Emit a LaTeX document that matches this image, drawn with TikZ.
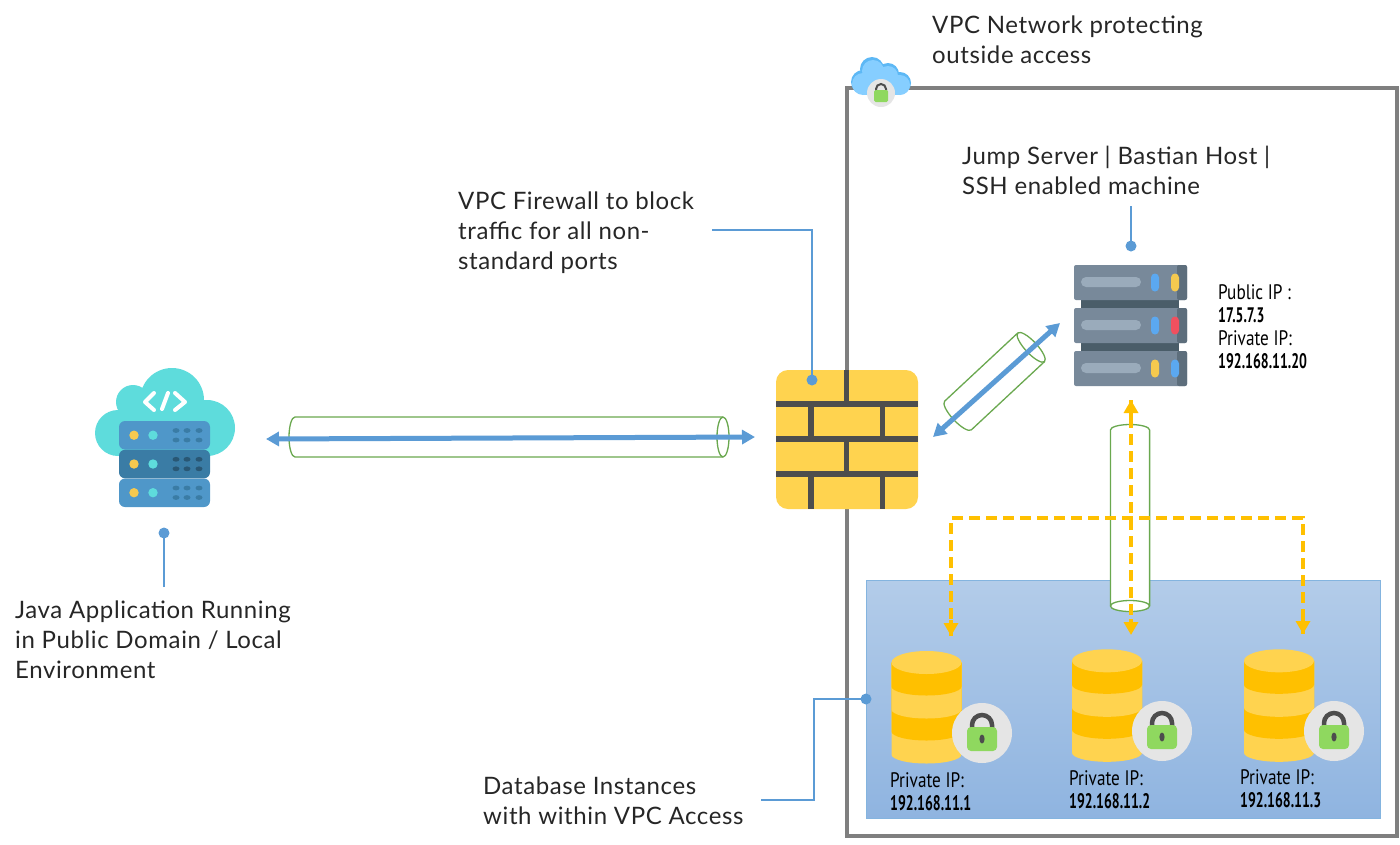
\documentclass[tikz,border=0pt]{standalone}
\usepackage{fontspec}
\usetikzlibrary{arrows.meta,calc}
\setmainfont[LetterSpace=2.5]{Lato}
\newfontfamily\narrowfont[FakeStretch=0.82]{PT Sans}
\newfontfamily\ipnum[FakeStretch=0.66]{PT Sans}
\definecolor{wire}{HTML}{5B9BD5}
\definecolor{tube}{HTML}{6AA84F}
\definecolor{amber}{HTML}{FFC000}
\definecolor{honey}{HTML}{FFD34F}
\definecolor{mortar}{HTML}{4D4D4D}
\definecolor{frameg}{HTML}{7F7F7F}
\definecolor{lockg}{HTML}{8FD85F}
\definecolor{teal}{HTML}{5EDCDC}
\definecolor{rackb}{HTML}{4F97C9}
\definecolor{rackd}{HTML}{3A7CA5}
\definecolor{steel}{HTML}{78899A}
\definecolor{steeld}{HTML}{4A5D69}
\definecolor{steelm}{HTML}{5D6E7C}
\definecolor{pill}{HTML}{9AABBB}
\definecolor{ledb}{HTML}{5BA8F0}
\definecolor{ledy}{HTML}{F5C94F}
\definecolor{ledr}{HTML}{F0505F}
\definecolor{skyrim}{HTML}{5DB8F5}
\definecolor{skyfill}{HTML}{86CEFF}
\definecolor{paneltop}{HTML}{B3CCE9}
\definecolor{panelbot}{HTML}{8FB4E0}
\newcommand{\ipaddr}[1]{{\ipnum\bfseries #1}}
\tikzset{
  x=1pt,y=-1pt,
  label text/.style={anchor=north west,inner sep=0pt,align=left,font=\fontsize{24}{30}\selectfont,text=black!85},
  ip text/.style={anchor=north west,inner sep=0pt,align=left,font=\fontsize{21}{23}\selectfont\narrowfont,text=black},
  callout/.style={draw=wire,line width=2.5pt},
  dot/.style={circle,fill=wire,inner sep=0pt,minimum size=11pt},
  link/.style={draw=wire,line width=5pt,{Triangle[length=13pt,width=14pt]}-{Triangle[length=13pt,width=14pt]}},
  sync/.style={draw=amber,line width=4.5pt,dash pattern=on 11pt off 6pt},
  synctip/.style={draw=amber,line width=4.5pt,-{Triangle[length=13pt,width=14pt]}},
  tubeline/.style={draw=tube,line width=1.3pt,fill=white},
  % a green tunnel lying along x, open arc at one end and a full ellipse at the other
  pics/tunnel/.style n args={3}{code={
    \path[tubeline] (0,-#2) -- (#1,-#2) arc[start angle=-90,end angle=90,x radius=#3,y radius=#2]
      -- (0,#2) arc[start angle=90,end angle=270,x radius=#3,y radius=#2] -- cycle;
    \draw[tube,line width=1.3pt] (#1,-#2) arc[start angle=-90,end angle=-270,x radius=#3,y radius=#2];
  }},
  pics/padlock/.style={code={
    \fill[black!10] (0,0) circle[radius=30];
    \draw[mortar,line width=4.5pt] (-10,3) -- (-10,-8) arc[start angle=180,end angle=360,radius=10] -- (10,3);
    \fill[lockg,rounded corners=4pt] (-15,-6) rectangle (15,18);
    \fill[mortar] (0,6) ellipse[x radius=2.6,y radius=4.5];
  }},
  pics/dbstack/.style={code={
    \foreach \e/\c in {92/honey,69/amber,47/honey,24/amber}{
      \fill[\c] (-35,0) -- (-35,\e) arc[start angle=180,end angle=0,x radius=35,y radius=9] -- (35,0) -- cycle;
    }
    \fill[honey] (0,0) ellipse[x radius=35,y radius=11.5];
  }},
  pics/rackunit/.style n args={2}{code={
    \fill[steel,rounded corners=2pt] (0,0) rectangle (113,35);
    \fill[steelm,rounded corners=2pt] (103,0) rectangle (113,35);
    \fill[pill,rounded corners=5pt] (7,12) rectangle (67,22);
    \fill[#1,rounded corners=4pt] (77,8.5) rectangle (85,26.5);
    \fill[#2,rounded corners=4pt] (97,8.5) rectangle (105,26.5);
  }},
  pics/bladeunit/.style n args={2}{code={
    \fill[#1,rounded corners=6pt] (0,0) rectangle (91,28.5);
    \fill[ledy] (15,14.2) circle[radius=4.7];
    \fill[teal] (34,14.2) circle[radius=4.7];
    \foreach \gx in {57,68,80}\foreach \gy in {9.5,19}{
      \fill[#2] (\gx,\gy) ellipse[x radius=3.5,y radius=2.4];
    }
  }}
}
\begin{document}
\begin{tikzpicture}
\useasboundingbox (0,0) rectangle (1400,844);

% VPC boundary and database subnet
\draw[frameg,line width=4.5pt] (847,88) rectangle (1397,836);
\draw[draw=wire!75,top color=paneltop,bottom color=panelbot,line width=1pt] (866,580) rectangle (1380,818);

% Cloud badge on the boundary
\fill[skyrim] (863,82) circle[radius=12] (872,69) circle[radius=12] (888,74) circle[radius=11] (900,83) circle[radius=11];
\fill[skyfill] (863,84) circle[radius=11] (873,71) circle[radius=11] (888,76) circle[radius=10] (900,85) circle[radius=10];
\fill[skyfill] (862,75) rectangle (901,95);
\fill[black!10] (881,93) circle[radius=14];
\draw[mortar,line width=2pt] (876,94) -- (876,89) arc[start angle=180,end angle=360,radius=5] -- (886,94);
\fill[lockg,rounded corners=1.5pt] (874,90) rectangle (888,102);

% Application host in the public domain
\fill[teal] (118,433) circle[radius=23] (133,402) circle[radius=17] (172,400) circle[radius=32] (207,428) circle[radius=28];
\fill[teal] (118,412) rectangle (207,456);
\draw[white,line width=4pt,line cap=round,line join=round] (154,393) -- (145,402) -- (154,410);
\draw[white,line width=4pt,line cap=round,line join=round] (175,393) -- (185,402) -- (175,410);
\draw[white,line width=4pt,line cap=round] (168,393) -- (162,409);
\pic at (119,421) {bladeunit={rackb}{rackd}};
\pic at (119,478.5) {bladeunit={rackb}{rackd}};
\pic at (119,449.8) {bladeunit={rackd}{black!30!rackd}};
\coordinate (appbottom) at (164,533);
\coordinate (appleft) at (266,439);

% Firewall wall
\fill[honey,rounded corners=12pt] (776,370) rectangle (918,509);
\draw[mortar,line width=5.5pt]
  (776,404) -- (918,404) (776,439) -- (918,439) (776,474) -- (918,474)
  (846.5,370) -- (846.5,404) (811,404) -- (811,439) (882.5,404) -- (882.5,439)
  (846.5,439) -- (846.5,474) (811,474) -- (811,509) (882.5,474) -- (882.5,509);
\coordinate (fwtop) at (812,380);
\coordinate (fwleft) at (755,437);
\coordinate (fwright) at (933,437);

% Jump server
\fill[steeld] (1081,300) rectangle (1179,351);
\pic at (1074,265) {rackunit={ledb}{ledy}};
\pic at (1074,308) {rackunit={ledb}{ledr}};
\pic at (1074,351) {rackunit={ledy}{ledb}};
\coordinate (jumptop) at (1131,246);
\coordinate (jumpleft) at (1060,323);
\coordinate (jumpbottom) at (1131,400);

% Tunnels
\pic at (295,437) {tunnel={428}{20}{6}};
\pic[rotate=43] at (958,415.5) {tunnel={100}{19.6}{6}};
\pic[rotate=-90] at (1130,430) {tunnel={176}{19.6}{5.5}};

% Databases
\pic at (926.5,662.5) {dbstack};
\pic at (1107,660.8) {dbstack};
\pic at (1279,660.8) {dbstack};
\pic at (982,733) {padlock};
\pic at (1162,731) {padlock};
\pic at (1334,731) {padlock};
\coordinate (subnet) at (866,699);
\coordinate (busw) at (951,518);
\coordinate (buse) at (1303,518);
\coordinate (dbtipa) at (951,636);
\coordinate (dbtipb) at (1131,635);
\coordinate (dbtipc) at (1303,634);

% Encrypted links
\draw[link] (appleft) -- (fwleft);
\draw[link] (fwright) -- (jumpleft);

% Private traffic between the databases and the jump server
\draw[sync] (dbtipa) -- (busw) -- (buse) -- (dbtipc);
\draw[sync] (jumpbottom) -- (dbtipb);
\draw[synctip] ($(dbtipa)+(0,-16)$) -- (dbtipa);
\draw[synctip] ($(dbtipb)+(0,-16)$) -- (dbtipb);
\draw[synctip] ($(dbtipc)+(0,-16)$) -- (dbtipc);
\draw[synctip] ($(jumpbottom)+(0,20)$) -- (jumpbottom);

% Callouts
\node[label text] (vpctext) at (932,16) {VPC Network protecting\\outside access};
\node[label text] (jumptext) at (962,146) {Jump Server | Bastian Host |\\SSH enabled machine};
\node[label text] (fwtext) at (458,192) {VPC Firewall to block\\traffic for all non-\\standard ports};
\node[label text] (apptext) at (15,601) {Java Application Running\\in Public Domain / Local\\Environment};
\node[label text] (dbtext) at (483,777) {Database Instances\\with within VPC Access};

\coordinate (fwcall) at (712,230);
\coordinate (jumpcall) at (1131,206);
\coordinate (appcall) at (164,587);
\coordinate (dbcall) at (761,800);
\draw[callout] (fwcall) -| (fwtop);
\draw[callout] (jumpcall) -- (jumptop);
\draw[callout] (appcall) -- (appbottom);
\draw[callout] (dbcall) -- (814,800) -- (814,699) -- (subnet);
\node[dot] (fwdot) at (fwtop) {};
\node[dot] (jumpdot) at (jumptop) {};
\node[dot] (appdot) at (appbottom) {};
\node[dot] (subnetdot) at (subnet) {};

% Address labels
\node[ip text] (jumpip) at (1218,284) {Public IP :\\\ipaddr{17.5.7.3}\\Private IP:\\\ipaddr{192.168.11.20}};
\node[ip text] (dbipa) at (890,772) {Private IP:\\\ipaddr{192.168.11.1}};
\node[ip text] (dbipb) at (1069,770) {Private IP:\\\ipaddr{192.168.11.2}};
\node[ip text] (dbipc) at (1240,769) {Private IP:\\\ipaddr{192.168.11.3}};
\end{tikzpicture}
\end{document}
